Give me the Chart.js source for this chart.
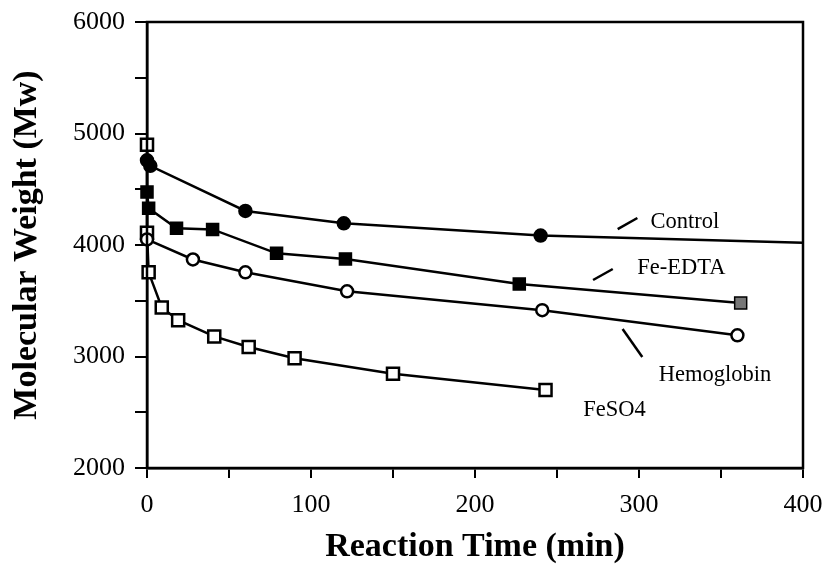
<!DOCTYPE html>
<html>
<head>
<meta charset="utf-8">
<script src="https://cdn.jsdelivr.net/npm/chart.js@4"></script>
<style>
  html, body { margin: 0; padding: 0; background: #fff; }
  #wrap { width: 823px; height: 564px; }
</style>
</head>
<body>
<div id="wrap"><canvas id="grafico" width="823" height="564"></canvas></div>
<script>
// Dados (tempo em min, Mw)
const tempoControl = [0, 2, 60, 120, 240, 400];
const mwControl = [4760, 4710, 4305, 4195, 4085, 4020];

const tempoFeEDTA = [0, 1, 18, 40, 79, 121, 227, 362];
const mwFeEDTA = [4475, 4330, 4150, 4140, 3925, 3875, 3650, 3480];

const tempoHemo = [0, 28, 60, 122, 241, 360];
const mwHemo = [4050, 3870, 3755, 3585, 3415, 3190];

const tempoFeSO4 = [0, 0, 1, 9, 19, 41, 62, 90, 150, 243];
const mwFeSO4 = [4900, 4110, 3755, 3440, 3325, 3180, 3085, 2985, 2845, 2700];

// Rótulos das curvas: [texto, x, y] em unidades de dados
const rotulos = [
  ["Control", 307, 4206],
  ["Fe-EDTA", 299, 3794],
  ["Hemoglobin", 312, 2834],
  ["FeSO4", 266, 2520]
];
// Traços indicadores: [x1, y1, x2, y2]
const tracos = [
  [287, 4143, 299, 4242],
  [272, 3686, 284, 3785],
  [290, 3247, 302, 2996]
];

const fonteSerif = "'Liberation Serif', 'DejaVu Serif', serif";

function pares(xs, ys) {
  return xs.map((x, i) => ({ x: x, y: ys[i] }));
}

const molduraPlugin = {
  id: "moldura",
  afterDraw(chart) {
    const ctx = chart.ctx;
    const a = chart.chartArea;
    const sx = chart.scales.x, sy = chart.scales.y;
    ctx.save();
    ctx.strokeStyle = "#000";
    ctx.lineWidth = 2.5;
    ctx.strokeRect(a.left, a.top, a.right - a.left, a.bottom - a.top);

    tracos.forEach(t => {
      ctx.beginPath();
      ctx.moveTo(sx.getPixelForValue(t[0]), sy.getPixelForValue(t[1]));
      ctx.lineTo(sx.getPixelForValue(t[2]), sy.getPixelForValue(t[3]));
      ctx.stroke();
    });

    ctx.fillStyle = "#000";
    ctx.font = "22.5px " + fonteSerif;
    ctx.textBaseline = "middle";
    ctx.textAlign = "left";
    rotulos.forEach(r => {
      ctx.fillText(r[0], sx.getPixelForValue(r[1]), sy.getPixelForValue(r[2]));
    });
    ctx.restore();
  }
};

const estiloLinha = {
  borderColor: "#000",
  borderWidth: 2.5,
  pointBorderColor: "#000",
  pointBorderWidth: 2.5,
  tension: 0,
  fill: false,
  showLine: true,
  clip: false
};

new Chart(document.getElementById("grafico").getContext("2d"), {
  type: "scatter",
  data: {
    datasets: [
      Object.assign({}, estiloLinha, {
        label: "Control",
        data: pares(tempoControl, mwControl),
        pointStyle: "circle",
        pointRadius: tempoControl.map(t => t === 400 ? 0 : 6),
        pointBackgroundColor: "#000"
      }),
      Object.assign({}, estiloLinha, {
        label: "Fe-EDTA",
        data: pares(tempoFeEDTA, mwFeEDTA),
        pointStyle: "rect",
        pointRadius: 8.5,
        pointBorderWidth: 1.5,
        pointBackgroundColor: tempoFeEDTA.map((t, i) => i === tempoFeEDTA.length - 1 ? "#777" : "#000")
      }),
      Object.assign({}, estiloLinha, {
        label: "Hemoglobin",
        data: pares(tempoHemo, mwHemo),
        pointStyle: "circle",
        pointRadius: 6,
        pointBackgroundColor: "#fff"
      }),
      Object.assign({}, estiloLinha, {
        label: "FeSO4",
        data: pares(tempoFeSO4, mwFeSO4),
        pointStyle: "rect",
        pointRadius: 8.5,
        pointBackgroundColor: "#fff"
      })
    ]
  },
  options: {
    responsive: false,
    animation: false,
    layout: { padding: { top: 22, right: 20, left: 0, bottom: 0 } },
    plugins: {
      legend: { display: false },
      tooltip: { enabled: false }
    },
    scales: {
      x: {
        type: "linear",
        min: 0,
        max: 400,
        afterFit(scale) {
          scale.height = 96;
          scale.paddingLeft = 0;
          scale.paddingRight = 0;
        },
        ticks: {
          stepSize: 50,
          autoSkip: false,
          maxRotation: 0,
          color: "#000",
          padding: 12,
          font: { family: fonteSerif, size: 26 },
          callback: v => (v % 100 === 0 ? v : "")
        },
        grid: { drawOnChartArea: false, color: "#000", tickLength: 10, lineWidth: 2 },
        border: { color: "#000", width: 2.5 },
        title: {
          display: true,
          text: "Reaction Time (min)",
          color: "#000",
          font: { family: fonteSerif, size: 34, weight: "bold", lineHeight: 1 },
          padding: { top: 0, bottom: 0 }
        }
      },
      y: {
        type: "linear",
        min: 2000,
        max: 6000,
        afterFit(scale) {
          scale.width = 147;
          scale.paddingTop = 0;
          scale.paddingBottom = 0;
        },
        ticks: {
          stepSize: 500,
          autoSkip: false,
          color: "#000",
          padding: 10,
          font: { family: fonteSerif, size: 26 },
          callback: v => (v % 1000 === 0 ? v : "")
        },
        grid: { drawOnChartArea: false, color: "#000", tickLength: 12, lineWidth: 2 },
        border: { color: "#000", width: 2.5 },
        title: {
          display: true,
          text: "Molecular Weight (Mw)",
          color: "#000",
          font: { family: fonteSerif, size: 34, weight: "bold" },
          padding: { top: 7, bottom: 0 }
        }
      }
    }
  },
  plugins: [molduraPlugin]
});
</script>
</body>
</html>
